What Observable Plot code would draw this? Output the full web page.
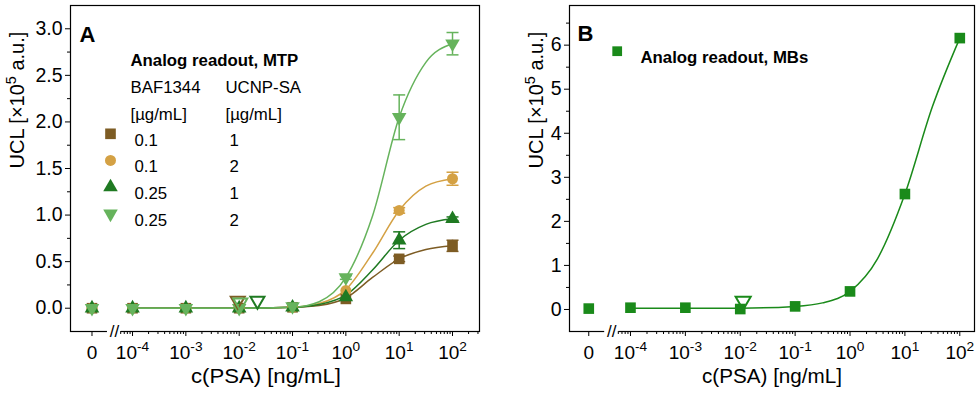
<!DOCTYPE html>
<html>
<head>
<meta charset="utf-8">
<script src="https://cdn.jsdelivr.net/npm/d3@7"></script>
<script src="https://cdn.jsdelivr.net/npm/@observablehq/plot@0.6"></script>
<style>
  html, body { margin: 0; padding: 0; background: #fff; }
  #wrap { display: flex; width: 980px; height: 399px; }
</style>
</head>
<body>
<div id="wrap"></div>
<script>
// ---------- data (values in ×10^5 a.u.) ----------
const conc = [0, 1e-4, 1e-3, 1e-2, 1e-1, 1, 10, 100];

// Panel A series
const sqBrown   = [0, 0, 0, 0, 0.01, 0.10, 0.53, 0.67];
const sqBrownE  = [0, 0, 0, 0, 0, 0.01, 0.03, 0.06];
const cirTan    = [0, 0, 0, 0, 0.01, 0.19, 1.05, 1.39];
const cirTanE   = [0, 0, 0, 0, 0, 0.01, 0.03, 0.07];
const triDkG    = [0, 0, 0, 0, 0.01, 0.12, 0.73, 0.96];
const triDkGE   = [0, 0, 0, 0, 0, 0.01, 0.09, 0.02];
const triLtG    = [0, 0, 0, 0, 0.02, 0.33, 2.05, 2.84];
const triLtGE   = [0, 0, 0, 0, 0, 0.02, 0.24, 0.12];

// fitted curves at log10(c) positions
const fitLog    = [-4, -3, -2, -1, -0.5, 0, 0.5, 1, 1.5, 2];
const fitBrown  = [0, 0, 0, 0.01, 0.03, 0.11, 0.33, 0.53, 0.63, 0.67];
const fitTan    = [0, 0, 0, 0.01, 0.05, 0.20, 0.59, 1.05, 1.31, 1.39];
const fitDkG    = [0, 0, 0, 0.01, 0.04, 0.14, 0.41, 0.73, 0.90, 0.96];
const fitLtG    = [0, 0, 0, 0.01, 0.07, 0.33, 0.99, 2.05, 2.64, 2.84];

// LOD markers (open triangles)
const lodA_c    = [0.0094, 0.0105, 0.022];
const lodA_y    = [0.08, 0.06, 0.08];
const lodA_col  = ["#7d5c24", "#66b35c", "#1f7a22"];

// Panel B series
const mbs       = [0.02, 0.04, 0.04, 0.01, 0.07, 0.41, 2.62, 6.16];
const mbsE      = [0, 0, 0, 0, 0, 0, 0, 0];
const fitMbs    = [0.03, 0.03, 0.03, 0.07, 0.15, 0.41, 1.15, 2.62, 4.6, 6.16];
const lodB_c    = [0.0113];
const lodB_y    = [0.19];

// legend texts
const legendTitleA = "Analog readout, MTP";
const legendColA   = ["BAF1344", "[µg/mL]"];
const legendColB   = ["UCNP-SA", "[µg/mL]"];
const legendBAF    = ["0.1", "0.1", "0.25", "0.25"];
const legendUCNP   = ["1", "2", "1", "2"];
const legendTitleB = "Analog readout, MBs";

// tick values
const xMajor   = [-4, -3, -2, -1, 0, 1, 2];
const yMajorA  = [0, 0.5, 1, 1.5, 2, 2.5, 3];
const yMinorA  = [0.25, 0.75, 1.25, 1.75, 2.25, 2.75];
const yMajorB  = [0, 1, 2, 3, 4, 5, 6];
const yMinorB  = [0.5, 1.5, 2.5, 3.5, 4.5, 5.5, 6.5];

// ---------- styling ----------
const FONT = "'Liberation Sans', Arial, Helvetica, sans-serif";
const FS_TICK = 19.5;
const FS_XT = 19;
const FS_TITLE = 20;
const FS_LEG = 16.8;
const colors = {brown: "#7d5c24", tan: "#d4a144", dkg: "#1f7a22", ltg: "#66b35c", mb: "#1a8a1a"};
const zeroPos = -4.76;              // position of the "0" category on the broken axis
const gap = [-4.47, -4.21];         // axis break

const xpos = c => c === 0 ? zeroPos : Math.log10(c);
const capSym = {draw(ctx) { ctx.moveTo(-6, 0); ctx.lineTo(6, 0); }};

function minorTicks(xmax) {
  const out = [];
  for (let d = -5; d <= 2; d++) for (let k = 2; k <= 9; k++) {
    const v = d + Math.log10(k);
    if (v > -4.25 && v < xmax) out.push(v);
  }
  return out;
}

function seriesMarks(vals, errs, fit, color, symbol, r, rotate) {
  const pts = conc.map((c, i) => ({x: xpos(c), y: vals[i], e: errs[i]}));
  const eb = pts.filter(d => d.e > 0.015);
  const fitPts = fitLog.map((x, i) => ({x, y: fit[i]}));
  return {
    line: Plot.line(fitPts, {x: "x", y: "y", stroke: color, strokeWidth: 1.5, curve: "monotone-x"}),
    err: [
      Plot.ruleX(eb, {x: "x", y1: d => d.y - d.e, y2: d => d.y + d.e, stroke: color, strokeWidth: 1.5}),
      Plot.dot(eb, {x: "x", y: d => d.y + d.e, symbol: capSym, stroke: color, fill: "none", strokeWidth: 1.5}),
      Plot.dot(eb, {x: "x", y: d => d.y - d.e, symbol: capSym, stroke: color, fill: "none", strokeWidth: 1.5})
    ],
    dots: Plot.dot(pts, {x: "x", y: "y", symbol, r, fill: color, stroke: "none", rotate: rotate || 0})
  };
}

function supify(svg) {
  const ns = "http://www.w3.org/2000/svg";
  svg.querySelectorAll("text").forEach(t => {
    const s = t.textContent;
    if (!s.includes("^")) return;
    const m = s.match(/^(.*?)\^(-?\d+)(.*)$/);
    if (!m) return;
    const fs = parseFloat(getComputedStyle(t).fontSize) || 18;
    t.textContent = "";
    const a = document.createElementNS(ns, "tspan"); a.textContent = m[1]; t.appendChild(a);
    const b = document.createElementNS(ns, "tspan"); b.textContent = m[2];
    b.setAttribute("dy", -0.4 * fs); b.setAttribute("font-size", 0.72 * fs); t.appendChild(b);
    if (m[3]) {
      const c = document.createElementNS(ns, "tspan"); c.textContent = m[3];
      c.setAttribute("dy", 0.4 * fs); t.appendChild(c);
    }
  });
}

// stretch a text element along its direction to a given length (px)
function stretchTo(svg, content, len) {
  svg.querySelectorAll("text").forEach(t => {
    if (t.textContent === content) {
      t.setAttribute("textLength", len);
      t.setAttribute("lengthAdjust", "spacingAndGlyphs");
    }
  });
}

function axisMarks(xmax, yDomain, yMajor, yMinor, yFmt) {
  return [
    Plot.frame({stroke: "black", strokeWidth: 1.2}),
    Plot.ruleY([yDomain[0]], {x1: gap[0], x2: gap[1], stroke: "white", strokeWidth: 5}),
    Plot.text(["//"], {x: (gap[0] + gap[1]) / 2, y: yDomain[0], fontSize: 17, fill: "black", lineAnchor: "middle"}),
    Plot.axisX(xMajor.concat([zeroPos]), {tickSize: 5, tickPadding: 9, fontSize: FS_XT, label: null,
      tickFormat: d => d === zeroPos ? "0" : "10^" + d}),
    Plot.axisX(minorTicks(xmax), {tickSize: 3, tickFormat: () => "", label: null}),
    Plot.axisY(yMajor, {tickSize: 5, tickPadding: 3, fontSize: FS_TICK, label: null, tickFormat: yFmt}),
    Plot.axisY(yMinor, {tickSize: 3, tickFormat: () => "", label: null})
  ];
}

// ---------- Panel A ----------
const yDomA = [-0.25, 3.25];
const xDomA = [-5.163, 2.506];
const sA = [
  seriesMarks(sqBrown, sqBrownE, fitBrown, colors.brown, "square", 6, 0),
  seriesMarks(cirTan, cirTanE, fitTan, colors.tan, "circle", 5.5, 0),
  seriesMarks(triDkG, triDkGE, fitDkG, colors.dkg, "triangle", 5.4, 0),
  seriesMarks(triLtG, triLtGE, fitLtG, colors.ltg, "triangle", 5.4, 180)
];
const lodA = lodA_c.map((c, i) => ({x: Math.log10(c), y: lodA_y[i], col: lodA_col[i]}));

const legendSyms = [["square", colors.brown, 6, 0], ["circle", colors.tan, 5.5, 0],
                    ["triangle", colors.dkg, 5.4, 0], ["triangle", colors.ltg, 5.4, 180]];
const legendA = [
  Plot.text(["A"], {frameAnchor: "top-left", dx: 17, dy: 21, fontSize: 22, fontWeight: "bold", textAnchor: "middle"}),
  Plot.text([legendTitleA], {frameAnchor: "top-left", dx: 60, dy: 48.5, fontSize: FS_LEG, fontWeight: "bold", textAnchor: "start"}),
  ...legendColA.map((t, i) => Plot.text([t], {frameAnchor: "top-left", dx: 60, dy: 76 + 27 * i, fontSize: FS_LEG, textAnchor: "start"})),
  ...legendColB.map((t, i) => Plot.text([t], {frameAnchor: "top-left", dx: 155, dy: 76 + 27 * i, fontSize: FS_LEG, textAnchor: "start"})),
  ...legendSyms.map((s, i) => Plot.dot([0], {frameAnchor: "top-left", dx: 40, dy: 128.3 + 26.67 * i, symbol: s[0], fill: s[1], r: s[2], rotate: s[3]})),
  ...legendBAF.map((t, i) => Plot.text([t], {frameAnchor: "top-left", dx: 64, dy: 128.3 + 26.67 * i, fontSize: FS_LEG, textAnchor: "start"})),
  ...legendUCNP.map((t, i) => Plot.text([t], {frameAnchor: "top-left", dx: 159, dy: 128.3 + 26.67 * i, fontSize: FS_LEG, textAnchor: "start"}))
];

const plotA = Plot.plot({
  width: 490, height: 399,
  marginLeft: 70, marginRight: 11, marginTop: 5, marginBottom: 68,
  style: {fontFamily: FONT, fontSize: "18px", background: "white", color: "black", overflow: "visible"},
  x: {type: "linear", domain: xDomA, label: null},
  y: {type: "linear", domain: yDomA, label: null},
  color: {type: "identity"},
  marks: [
    ...axisMarks(xDomA[1], yDomA, yMajorA, yMinorA, d3.format(".1f")),
    ...sA.map(s => s.line),
    ...sA.flatMap(s => s.err),
    ...sA.map(s => s.dots),
    Plot.dot(lodA, {x: "x", y: "y", symbol: "triangle", rotate: 180, r: 5.2, stroke: "col", fill: "none", strokeWidth: 2}),
    Plot.text(["c(PSA) [ng/mL]"], {frameAnchor: "bottom", dx: -9, dy: 51, fontSize: FS_TITLE}),
    Plot.text(["UCL [×10^5 a.u.]"], {frameAnchor: "left", dx: -52.5, rotate: -90, fontSize: FS_TITLE}),
    ...legendA
  ]
});

// ---------- Panel B ----------
const yDomB = [-0.5, 6.9];
const xDomB = [-5.111, 2.268];
const sB = seriesMarks(mbs, mbsE, fitMbs, colors.mb, "square", 6, 0);
const lodB = lodB_c.map((c, i) => ({x: Math.log10(c), y: lodB_y[i]}));

const plotB = Plot.plot({
  width: 490, height: 399,
  marginLeft: 79, marginRight: 6, marginTop: 5, marginBottom: 68,
  style: {fontFamily: FONT, fontSize: "18px", background: "white", color: "black", overflow: "visible"},
  x: {type: "linear", domain: xDomB, label: null},
  y: {type: "linear", domain: yDomB, label: null},
  marks: [
    ...axisMarks(xDomB[1], yDomB, yMajorB, yMinorB, d3.format("d")),
    sB.line, ...sB.err, sB.dots,
    Plot.dot(lodB, {x: "x", y: "y", symbol: "triangle", rotate: 180, r: 5.6, stroke: colors.mb, fill: "none", strokeWidth: 2}),
    Plot.text(["B"], {frameAnchor: "top-left", dx: 16, dy: 20, fontSize: 22, fontWeight: "bold", textAnchor: "middle"}),
    Plot.dot([0], {frameAnchor: "top-left", dx: 47.7, dy: 45.7, symbol: "square", fill: colors.mb, r: 5.5}),
    Plot.text([legendTitleB], {frameAnchor: "top-left", dx: 71, dy: 46, fontSize: FS_LEG, fontWeight: "bold", textAnchor: "start"}),
    Plot.text(["c(PSA) [ng/mL]"], {frameAnchor: "bottom", dx: 0, dy: 51, fontSize: FS_TITLE}),
    Plot.text(["UCL [×10^5 a.u.]"], {frameAnchor: "left", dx: -32.5, rotate: -90, fontSize: FS_TITLE})
  ]
});

const wrap = document.getElementById("wrap");
wrap.appendChild(plotA);
wrap.appendChild(plotB);
supify(plotA);
supify(plotB);
stretchTo(plotA, "c(PSA) [ng/mL]", 150);
stretchTo(plotB, "c(PSA) [ng/mL]", 140);
</script>
</body>
</html>
